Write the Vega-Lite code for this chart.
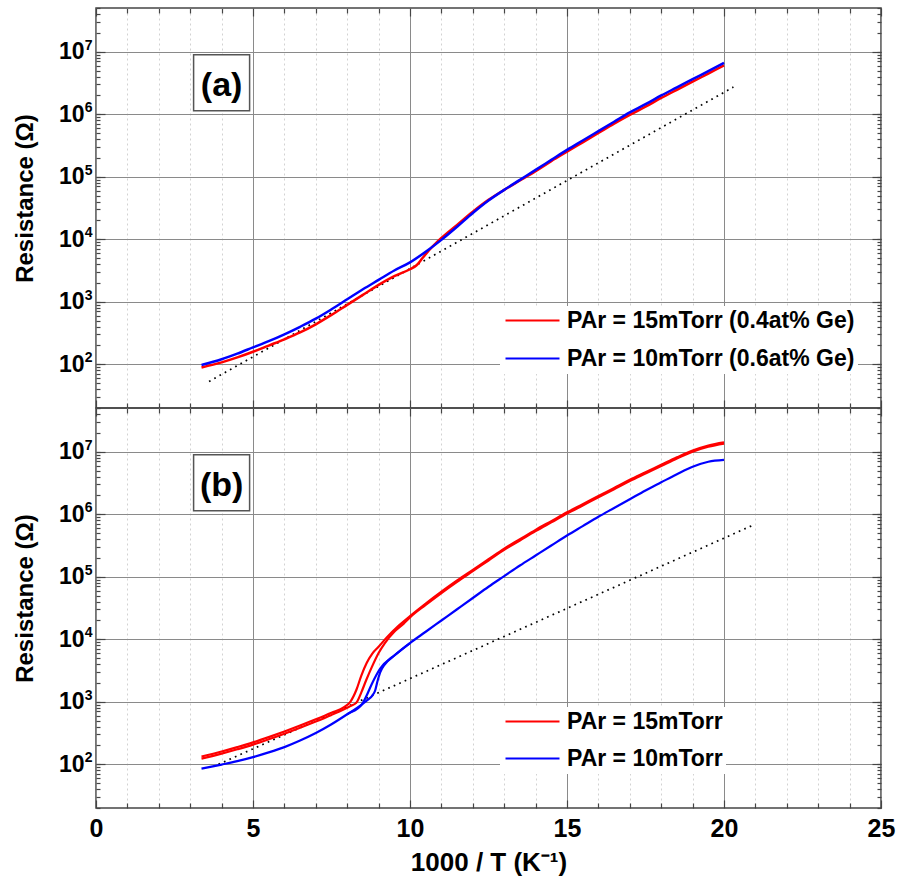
{
  "$schema": "https://vega.github.io/schema/vega-lite/v6.json",
  "background": "white",
  "padding": {"left": 12, "top": 6, "right": 7, "bottom": 10},
  "config": {
    "font": "Liberation Sans",
    "view": {"stroke": "#454545", "strokeWidth": 1.5},
    "axis": {"domain": false, "labelFlush": false, "labelOverlap": false, "labelBound": false, "tickColor": "#454545", "tickWidth": 1.2, "labelColor": "black", "titleColor": "black", "labelFont": "Liberation Sans", "titleFont": "Liberation Sans"}
  },
  "datasets": {
    "curves": [
      {"panel":"a","series":"a15","branch":"1","x":3.36,"R":89.1},
      {"panel":"a","series":"a15","branch":"1","x":4.0,"R":107.2},
      {"panel":"a","series":"a15","branch":"1","x":4.5,"R":128.8},
      {"panel":"a","series":"a15","branch":"1","x":5.0,"R":158.5},
      {"panel":"a","series":"a15","branch":"1","x":5.5,"R":199.5},
      {"panel":"a","series":"a15","branch":"1","x":6.0,"R":251.2},
      {"panel":"a","series":"a15","branch":"1","x":6.5,"R":323.6},
      {"panel":"a","series":"a15","branch":"1","x":7.0,"R":436.5},
      {"panel":"a","series":"a15","branch":"1","x":7.5,"R":616.6},
      {"panel":"a","series":"a15","branch":"1","x":8.0,"R":891.3},
      {"panel":"a","series":"a15","branch":"1","x":8.5,"R":1288},
      {"panel":"a","series":"a15","branch":"1","x":9.0,"R":1862},
      {"panel":"a","series":"a15","branch":"1","x":9.5,"R":2570},
      {"panel":"a","series":"a15","branch":"1","x":10.0,"R":3311},
      {"panel":"a","series":"a15","branch":"1","x":10.2,"R":3802},
      {"panel":"a","series":"a15","branch":"1","x":10.4,"R":5012},
      {"panel":"a","series":"a15","branch":"1","x":10.6,"R":6607},
      {"panel":"a","series":"a15","branch":"1","x":10.85,"R":8913},
      {"panel":"a","series":"a15","branch":"1","x":11.0,"R":10470},
      {"panel":"a","series":"a15","branch":"1","x":11.5,"R":16980},
      {"panel":"a","series":"a15","branch":"1","x":12.0,"R":27540},
      {"panel":"a","series":"a15","branch":"1","x":12.5,"R":42660},
      {"panel":"a","series":"a15","branch":"1","x":13.0,"R":61660},
      {"panel":"a","series":"a15","branch":"1","x":13.5,"R":87100},
      {"panel":"a","series":"a15","branch":"1","x":14.0,"R":123000},
      {"panel":"a","series":"a15","branch":"1","x":14.5,"R":177800},
      {"panel":"a","series":"a15","branch":"1","x":15.0,"R":251200},
      {"panel":"a","series":"a15","branch":"1","x":15.5,"R":354800},
      {"panel":"a","series":"a15","branch":"1","x":16.0,"R":501200},
      {"panel":"a","series":"a15","branch":"1","x":16.5,"R":707900},
      {"panel":"a","series":"a15","branch":"1","x":17.0,"R":977200},
      {"panel":"a","series":"a15","branch":"1","x":17.5,"R":1318000},
      {"panel":"a","series":"a15","branch":"1","x":18.0,"R":1820000},
      {"panel":"a","series":"a15","branch":"1","x":18.5,"R":2455000},
      {"panel":"a","series":"a15","branch":"1","x":19.0,"R":3311000},
      {"panel":"a","series":"a15","branch":"1","x":19.5,"R":4467000},
      {"panel":"a","series":"a15","branch":"1","x":20.0,"R":6026000},
      {"panel":"a","series":"a10","branch":"1","x":3.36,"R":97.7},
      {"panel":"a","series":"a10","branch":"1","x":4.0,"R":120.2},
      {"panel":"a","series":"a10","branch":"1","x":4.5,"R":147.9},
      {"panel":"a","series":"a10","branch":"1","x":5.0,"R":186.2},
      {"panel":"a","series":"a10","branch":"1","x":5.5,"R":234.4},
      {"panel":"a","series":"a10","branch":"1","x":6.0,"R":302.0},
      {"panel":"a","series":"a10","branch":"1","x":6.5,"R":398.1},
      {"panel":"a","series":"a10","branch":"1","x":7.0,"R":537.0},
      {"panel":"a","series":"a10","branch":"1","x":7.5,"R":758.6},
      {"panel":"a","series":"a10","branch":"1","x":8.0,"R":1096},
      {"panel":"a","series":"a10","branch":"1","x":8.5,"R":1585},
      {"panel":"a","series":"a10","branch":"1","x":9.0,"R":2239},
      {"panel":"a","series":"a10","branch":"1","x":9.5,"R":3162},
      {"panel":"a","series":"a10","branch":"1","x":10.0,"R":4266},
      {"panel":"a","series":"a10","branch":"1","x":10.5,"R":6310},
      {"panel":"a","series":"a10","branch":"1","x":11.0,"R":9772},
      {"panel":"a","series":"a10","branch":"1","x":11.5,"R":15850},
      {"panel":"a","series":"a10","branch":"1","x":12.0,"R":26300},
      {"panel":"a","series":"a10","branch":"1","x":12.5,"R":41690},
      {"panel":"a","series":"a10","branch":"1","x":13.0,"R":61660},
      {"panel":"a","series":"a10","branch":"1","x":13.5,"R":89130},
      {"panel":"a","series":"a10","branch":"1","x":14.0,"R":128800},
      {"panel":"a","series":"a10","branch":"1","x":14.5,"R":186200},
      {"panel":"a","series":"a10","branch":"1","x":15.0,"R":269200},
      {"panel":"a","series":"a10","branch":"1","x":15.5,"R":380200},
      {"panel":"a","series":"a10","branch":"1","x":16.0,"R":537000},
      {"panel":"a","series":"a10","branch":"1","x":16.5,"R":758600},
      {"panel":"a","series":"a10","branch":"1","x":17.0,"R":1072000},
      {"panel":"a","series":"a10","branch":"1","x":17.5,"R":1445000},
      {"panel":"a","series":"a10","branch":"1","x":18.0,"R":1995000},
      {"panel":"a","series":"a10","branch":"1","x":18.5,"R":2692000},
      {"panel":"a","series":"a10","branch":"1","x":19.0,"R":3631000},
      {"panel":"a","series":"a10","branch":"1","x":19.5,"R":4898000},
      {"panel":"a","series":"a10","branch":"1","x":20.0,"R":6607000},
      {"panel":"b","series":"b15","branch":"A","x":3.36,"R":133.4},
      {"panel":"b","series":"b15","branch":"A","x":4.0,"R":160.3},
      {"panel":"b","series":"b15","branch":"A","x":4.5,"R":188.4},
      {"panel":"b","series":"b15","branch":"A","x":5.0,"R":223.9},
      {"panel":"b","series":"b15","branch":"A","x":5.5,"R":272.3},
      {"panel":"b","series":"b15","branch":"A","x":6.0,"R":335.0},
      {"panel":"b","series":"b15","branch":"A","x":6.5,"R":416.9},
      {"panel":"b","series":"b15","branch":"A","x":7.0,"R":524.8},
      {"panel":"b","series":"b15","branch":"A","x":7.5,"R":668.3},
      {"panel":"b","series":"b15","branch":"A","x":7.9,"R":822.2},
      {"panel":"b","series":"b15","branch":"A","x":8.1,"R":1000},
      {"panel":"b","series":"b15","branch":"A","x":8.3,"R":1585},
      {"panel":"b","series":"b15","branch":"A","x":8.45,"R":2630},
      {"panel":"b","series":"b15","branch":"A","x":8.62,"R":4169},
      {"panel":"b","series":"b15","branch":"A","x":8.8,"R":5888},
      {"panel":"b","series":"b15","branch":"A","x":9.0,"R":7586},
      {"panel":"b","series":"b15","branch":"A","x":9.26,"R":10720},
      {"panel":"b","series":"b15","branch":"A","x":9.6,"R":15850},
      {"panel":"b","series":"b15","branch":"A","x":10.0,"R":23440},
      {"panel":"b","series":"b15","branch":"A","x":10.5,"R":37150},
      {"panel":"b","series":"b15","branch":"A","x":11.0,"R":57540},
      {"panel":"b","series":"b15","branch":"A","x":11.5,"R":87100},
      {"panel":"b","series":"b15","branch":"A","x":12.0,"R":128800},
      {"panel":"b","series":"b15","branch":"A","x":12.5,"R":190500},
      {"panel":"b","series":"b15","branch":"A","x":13.0,"R":281800},
      {"panel":"b","series":"b15","branch":"A","x":13.5,"R":398100},
      {"panel":"b","series":"b15","branch":"A","x":14.0,"R":562300},
      {"panel":"b","series":"b15","branch":"A","x":14.5,"R":776200},
      {"panel":"b","series":"b15","branch":"A","x":15.0,"R":1072000},
      {"panel":"b","series":"b15","branch":"A","x":15.5,"R":1445000},
      {"panel":"b","series":"b15","branch":"A","x":16.0,"R":1950000},
      {"panel":"b","series":"b15","branch":"A","x":16.5,"R":2630000},
      {"panel":"b","series":"b15","branch":"A","x":17.0,"R":3548000},
      {"panel":"b","series":"b15","branch":"A","x":17.5,"R":4677000},
      {"panel":"b","series":"b15","branch":"A","x":18.0,"R":6166000},
      {"panel":"b","series":"b15","branch":"A","x":18.5,"R":8128000},
      {"panel":"b","series":"b15","branch":"A","x":19.0,"R":10470000},
      {"panel":"b","series":"b15","branch":"A","x":19.5,"R":12590000},
      {"panel":"b","series":"b15","branch":"A","x":20.0,"R":14130000},
      {"panel":"b","series":"b15","branch":"B","x":3.36,"R":123.0},
      {"panel":"b","series":"b15","branch":"B","x":4.0,"R":147.9},
      {"panel":"b","series":"b15","branch":"B","x":4.5,"R":173.8},
      {"panel":"b","series":"b15","branch":"B","x":5.0,"R":206.5},
      {"panel":"b","series":"b15","branch":"B","x":5.5,"R":251.2},
      {"panel":"b","series":"b15","branch":"B","x":6.0,"R":309.0},
      {"panel":"b","series":"b15","branch":"B","x":6.5,"R":384.6},
      {"panel":"b","series":"b15","branch":"B","x":7.0,"R":484.2},
      {"panel":"b","series":"b15","branch":"B","x":7.5,"R":616.6},
      {"panel":"b","series":"b15","branch":"B","x":7.9,"R":758.6},
      {"panel":"b","series":"b15","branch":"B","x":8.1,"R":851.1},
      {"panel":"b","series":"b15","branch":"B","x":8.3,"R":977.2},
      {"panel":"b","series":"b15","branch":"B","x":8.45,"R":1413},
      {"panel":"b","series":"b15","branch":"B","x":8.6,"R":2188},
      {"panel":"b","series":"b15","branch":"B","x":8.78,"R":3548},
      {"panel":"b","series":"b15","branch":"B","x":9.0,"R":6026},
      {"panel":"b","series":"b15","branch":"B","x":9.2,"R":8710},
      {"panel":"b","series":"b15","branch":"B","x":9.5,"R":13180},
      {"panel":"b","series":"b15","branch":"B","x":9.8,"R":17780},
      {"panel":"b","series":"b15","branch":"B","x":10.0,"R":22390},
      {"panel":"b","series":"b15","branch":"B","x":10.5,"R":35480},
      {"panel":"b","series":"b15","branch":"B","x":11.0,"R":54950},
      {"panel":"b","series":"b15","branch":"B","x":11.5,"R":83180},
      {"panel":"b","series":"b15","branch":"B","x":12.0,"R":123000},
      {"panel":"b","series":"b15","branch":"B","x":12.5,"R":182000},
      {"panel":"b","series":"b15","branch":"B","x":13.0,"R":269200},
      {"panel":"b","series":"b15","branch":"B","x":13.5,"R":380200},
      {"panel":"b","series":"b15","branch":"B","x":14.0,"R":537000},
      {"panel":"b","series":"b15","branch":"B","x":14.5,"R":741300},
      {"panel":"b","series":"b15","branch":"B","x":15.0,"R":1023000},
      {"panel":"b","series":"b15","branch":"B","x":15.5,"R":1380000},
      {"panel":"b","series":"b15","branch":"B","x":16.0,"R":1862000},
      {"panel":"b","series":"b15","branch":"B","x":16.5,"R":2512000},
      {"panel":"b","series":"b15","branch":"B","x":17.0,"R":3388000},
      {"panel":"b","series":"b15","branch":"B","x":17.5,"R":4467000},
      {"panel":"b","series":"b15","branch":"B","x":18.0,"R":5888000},
      {"panel":"b","series":"b15","branch":"B","x":18.5,"R":7762000},
      {"panel":"b","series":"b15","branch":"B","x":19.0,"R":10000000},
      {"panel":"b","series":"b15","branch":"B","x":19.5,"R":12020000},
      {"panel":"b","series":"b15","branch":"B","x":20.0,"R":13490000},
      {"panel":"b","series":"b10","branch":"A","x":3.36,"R":85.1},
      {"panel":"b","series":"b10","branch":"A","x":4.0,"R":98.9},
      {"panel":"b","series":"b10","branch":"A","x":4.5,"R":112.2},
      {"panel":"b","series":"b10","branch":"A","x":5.0,"R":130.3},
      {"panel":"b","series":"b10","branch":"A","x":5.5,"R":154.9},
      {"panel":"b","series":"b10","branch":"A","x":6.0,"R":188.4},
      {"panel":"b","series":"b10","branch":"A","x":6.5,"R":239.9},
      {"panel":"b","series":"b10","branch":"A","x":7.0,"R":316.2},
      {"panel":"b","series":"b10","branch":"A","x":7.5,"R":436.5},
      {"panel":"b","series":"b10","branch":"A","x":8.0,"R":631.0},
      {"panel":"b","series":"b10","branch":"A","x":8.47,"R":912.0},
      {"panel":"b","series":"b10","branch":"A","x":8.6,"R":1202},
      {"panel":"b","series":"b10","branch":"A","x":8.78,"R":1905},
      {"panel":"b","series":"b10","branch":"A","x":8.92,"R":2630},
      {"panel":"b","series":"b10","branch":"A","x":9.05,"R":3388},
      {"panel":"b","series":"b10","branch":"A","x":9.5,"R":5495},
      {"panel":"b","series":"b10","branch":"A","x":10.0,"R":8710},
      {"panel":"b","series":"b10","branch":"A","x":10.5,"R":13180},
      {"panel":"b","series":"b10","branch":"A","x":11.0,"R":19950},
      {"panel":"b","series":"b10","branch":"A","x":11.5,"R":30200},
      {"panel":"b","series":"b10","branch":"A","x":12.0,"R":45710},
      {"panel":"b","series":"b10","branch":"A","x":12.5,"R":69180},
      {"panel":"b","series":"b10","branch":"A","x":13.0,"R":102300},
      {"panel":"b","series":"b10","branch":"A","x":13.5,"R":151400},
      {"panel":"b","series":"b10","branch":"A","x":14.0,"R":218800},
      {"panel":"b","series":"b10","branch":"A","x":14.5,"R":316200},
      {"panel":"b","series":"b10","branch":"A","x":15.0,"R":457100},
      {"panel":"b","series":"b10","branch":"A","x":15.5,"R":645700},
      {"panel":"b","series":"b10","branch":"A","x":16.0,"R":912000},
      {"panel":"b","series":"b10","branch":"A","x":16.5,"R":1259000},
      {"panel":"b","series":"b10","branch":"A","x":17.0,"R":1738000},
      {"panel":"b","series":"b10","branch":"A","x":17.5,"R":2399000},
      {"panel":"b","series":"b10","branch":"A","x":18.0,"R":3236000},
      {"panel":"b","series":"b10","branch":"A","x":18.5,"R":4365000},
      {"panel":"b","series":"b10","branch":"A","x":19.0,"R":5754000},
      {"panel":"b","series":"b10","branch":"A","x":19.5,"R":6918000},
      {"panel":"b","series":"b10","branch":"A","x":20.0,"R":7413000},
      {"panel":"b","series":"b10","branch":"B","x":8.0,"R":631.0},
      {"panel":"b","series":"b10","branch":"B","x":8.47,"R":912.0},
      {"panel":"b","series":"b10","branch":"B","x":8.62,"R":1047},
      {"panel":"b","series":"b10","branch":"B","x":8.8,"R":1259},
      {"panel":"b","series":"b10","branch":"B","x":8.89,"R":1514},
      {"panel":"b","series":"b10","branch":"B","x":8.96,"R":2089},
      {"panel":"b","series":"b10","branch":"B","x":9.05,"R":2951},
      {"panel":"b","series":"b10","branch":"B","x":9.2,"R":3981},
      {"panel":"b","series":"b10","branch":"B","x":9.5,"R":5495},
      {"panel":"b","series":"b10","branch":"B","x":10.0,"R":8710}
    ],
    "dots": [
      {"panel":"a","x":3.6,"R":53.1},
      {"panel":"a","x":20.3,"R":2716000},
      {"panel":"b","x":3.9,"R":100},
      {"panel":"b","x":20.9,"R":660700}
    ],
    "labels": [
      {"panel":"a","label":"(a)","x":4.0,"R":3200000},
      {"panel":"b","label":"(b)","x":4.0,"R":3200000}
    ]
  },
  "spacing": 0,
  "bounds": "flush",
  "resolve": {"scale": {"color": "independent"}, "legend": {"color": "independent"}},
  "vconcat": [
    {
      "width": 785,
      "height": 400,
      "resolve": {"axis": {"x": "independent", "y": "independent"}},
      "layer": [
        {
          "data": {"name": "dots"},
          "transform": [{"filter": "datum.panel == 'a'"}],
          "mark": {"type": "line", "color": "black", "strokeWidth": 1.7, "strokeDash": [1.7, 4.3]},
          "encoding": {
            "x": {"field": "x", "type": "quantitative", "scale": {"domain": [0, 25], "nice": false, "zero": false},
              "axis": {"orient": "bottom", "values": [0,5,10,15,20,25], "tickSize": -8, "grid": true, "gridColor": "#8a8a8a", "gridWidth": 1, "labels": false, "title": null}},
            "y": {"field": "R", "type": "quantitative", "scale": {"type": "log", "domain": [20, 50000000], "nice": false},
              "axis": {"orient": "left", "values": [100,1000,10000,100000,1000000,10000000], "tickSize": -9, "grid": true, "gridColor": "#8a8a8a", "gridWidth": 1, "labelExpr": "'10'", "labelFontSize": 23, "labelFontWeight": "bold", "labelPadding": 21, "labelBaseline": "middle", "title": "Resistance (Ω)", "titleFontSize": 24, "titleFontWeight": "bold", "titlePadding": 21, "titleY": 190}}
          }
        },
        {
          "data": {"name": "curves"},
          "transform": [{"filter": "datum.panel == 'a'"}],
          "mark": {"type": "line", "strokeWidth": 2.5, "interpolate": "monotone"},
          "encoding": {
            "x": {"field": "x", "type": "quantitative", "scale": {"domain": [0, 25], "nice": false, "zero": false},
              "axis": {"orient": "top", "values": [0,5,10,15,20,25], "tickSize": -8, "grid": false, "labels": false, "title": null}},
            "y": {"field": "R", "type": "quantitative", "scale": {"type": "log", "domain": [20, 50000000], "nice": false},
              "axis": {"orient": "right", "values": [100,1000,10000,100000,1000000,10000000], "tickSize": -9, "grid": false, "labels": false, "title": null}},
            "color": {"field": "series", "type": "nominal", "scale": {"domain": ["a15", "a10"], "range": ["#ff0000", "#0000ff"]},
              "legend": {"orient": "none", "legendX": 404, "legendY": 298, "title": null, "fillColor": "white", "padding": 3, "symbolType": "M-1,0H5", "symbolSize": 324, "symbolStrokeWidth": 2, "labelFontSize": 23, "labelFontWeight": "bold", "labelColor": "black", "labelOffset": 41, "rowPadding": 14, "labelLimit": 500,
                "labelExpr": "datum.label == 'a15' ? 'PAr = 15mTorr (0.4at% Ge)' : 'PAr = 10mTorr (0.6at% Ge)'"}},
            "detail": {"field": "branch"}
          }
        },
        {
          "data": {"name": "labels"},
          "transform": [{"filter": "datum.panel == 'a'"}],
          "mark": {"type": "point", "shape": "square", "size": 3136, "filled": true, "fill": "white", "stroke": "#555555", "strokeWidth": 1.5, "opacity": 1},
          "encoding": {
            "x": {"field": "x", "type": "quantitative", "scale": {"domain": [0, 25], "nice": false, "zero": false},
              "axis": {"orient": "bottom", "values": [1,2,3,4,6,7,8,9,11,12,13,14,16,17,18,19,21,22,23,24], "tickSize": -5, "grid": true, "gridColor": "#d2d2d2", "gridDash": [2, 3], "gridWidth": 1, "labels": false, "title": null}},
            "y": {"field": "R", "type": "quantitative", "scale": {"type": "log", "domain": [20, 50000000], "nice": false},
              "axis": {"orient": "left", "values": [20,30,40,50,60,70,80,90,100,200,300,400,500,600,700,800,900,1000,2000,3000,4000,5000,6000,7000,8000,9000,10000,20000,30000,40000,50000,60000,70000,80000,90000,100000,200000,300000,400000,500000,600000,700000,800000,900000,1000000,2000000,3000000,4000000,5000000,6000000,7000000,8000000,9000000,10000000,20000000,30000000,40000000,50000000], "tickSize": -4, "grid": false,
                "labelExpr": "abs(log(datum.value)/LN10 - round(log(datum.value)/LN10)) < 0.001 ? '' + round(log(datum.value)/LN10) : ''",
                "labelFontSize": {"condition": {"test": "abs(log(datum.value)/LN10 - round(log(datum.value)/LN10)) < 0.001", "value": 14}, "value": 0},
                "labelOffset": {"condition": {"test": "abs(log(datum.value)/LN10 - round(log(datum.value)/LN10)) < 0.001", "value": -6.5}, "value": 0},
                "labelFontWeight": "bold", "labelPadding": 8, "labelBaseline": "middle", "title": null}}
          }
        },
        {
          "data": {"name": "labels"},
          "transform": [{"filter": "datum.panel == 'a'"}],
          "mark": {"type": "text", "fontSize": 34, "fontWeight": "bold", "color": "black", "align": "center", "baseline": "middle", "dy": 3},
          "encoding": {
            "x": {"field": "x", "type": "quantitative", "scale": {"domain": [0, 25], "nice": false, "zero": false},
              "axis": {"orient": "top", "values": [1,2,3,4,6,7,8,9,11,12,13,14,16,17,18,19,21,22,23,24], "tickSize": -5, "grid": false, "labels": false, "title": null}},
            "y": {"field": "R", "type": "quantitative", "scale": {"type": "log", "domain": [20, 50000000], "nice": false},
              "axis": {"orient": "right", "values": [20,30,40,50,60,70,80,90,100,200,300,400,500,600,700,800,900,1000,2000,3000,4000,5000,6000,7000,8000,9000,10000,20000,30000,40000,50000,60000,70000,80000,90000,100000,200000,300000,400000,500000,600000,700000,800000,900000,1000000,2000000,3000000,4000000,5000000,6000000,7000000,8000000,9000000,10000000,20000000,30000000,40000000,50000000], "tickSize": -4, "grid": false, "labels": false, "title": null}},
            "text": {"field": "label"}
          }
        }
      ]
    },
    {
      "width": 785,
      "height": 400,
      "resolve": {"axis": {"x": "independent", "y": "independent"}},
      "layer": [
        {
          "data": {"name": "dots"},
          "transform": [{"filter": "datum.panel == 'b'"}],
          "mark": {"type": "line", "color": "black", "strokeWidth": 1.7, "strokeDash": [1.7, 4.3]},
          "encoding": {
            "x": {"field": "x", "type": "quantitative", "scale": {"domain": [0, 25], "nice": false, "zero": false},
              "axis": {"orient": "bottom", "values": [0,5,10,15,20,25], "tickSize": -8, "grid": true, "gridColor": "#8a8a8a", "gridWidth": 1, "labelFontSize": 25, "labelFontWeight": "bold", "labelPadding": 16.5, "title": "1000 / T (K⁻¹)", "titleFontSize": 26, "titleFontWeight": "bold", "titlePadding": 8}},
            "y": {"field": "R", "type": "quantitative", "scale": {"type": "log", "domain": [20, 50000000], "nice": false},
              "axis": {"orient": "left", "values": [100,1000,10000,100000,1000000,10000000], "tickSize": -9, "grid": true, "gridColor": "#8a8a8a", "gridWidth": 1, "labelExpr": "'10'", "labelFontSize": 23, "labelFontWeight": "bold", "labelPadding": 21, "labelBaseline": "middle", "title": "Resistance (Ω)", "titleFontSize": 24, "titleFontWeight": "bold", "titlePadding": 21, "titleY": 190}}
          }
        },
        {
          "data": {"name": "curves"},
          "transform": [{"filter": "datum.panel == 'b'"}],
          "mark": {"type": "line", "strokeWidth": 2.2, "interpolate": "monotone"},
          "encoding": {
            "x": {"field": "x", "type": "quantitative", "scale": {"domain": [0, 25], "nice": false, "zero": false},
              "axis": {"orient": "top", "values": [0,5,10,15,20,25], "tickSize": -8, "grid": false, "labels": false, "title": null}},
            "y": {"field": "R", "type": "quantitative", "scale": {"type": "log", "domain": [20, 50000000], "nice": false},
              "axis": {"orient": "right", "values": [100,1000,10000,100000,1000000,10000000], "tickSize": -9, "grid": false, "labels": false, "title": null}},
            "color": {"field": "series", "type": "nominal", "scale": {"domain": ["b15", "b10"], "range": ["#ff0000", "#0000ff"]},
              "legend": {"orient": "none", "legendX": 404, "legendY": 299, "title": null, "fillColor": "white", "padding": 3, "symbolType": "M-1,0H5", "symbolSize": 324, "symbolStrokeWidth": 2, "labelFontSize": 23, "labelFontWeight": "bold", "labelColor": "black", "labelOffset": 41, "rowPadding": 13, "labelLimit": 500,
                "labelExpr": "datum.label == 'b15' ? 'PAr = 15mTorr' : 'PAr = 10mTorr'"}},
            "detail": {"field": "branch"}
          }
        },
        {
          "data": {"name": "labels"},
          "transform": [{"filter": "datum.panel == 'b'"}],
          "mark": {"type": "point", "shape": "square", "size": 3136, "filled": true, "fill": "white", "stroke": "#555555", "strokeWidth": 1.5, "opacity": 1},
          "encoding": {
            "x": {"field": "x", "type": "quantitative", "scale": {"domain": [0, 25], "nice": false, "zero": false},
              "axis": {"orient": "bottom", "values": [1,2,3,4,6,7,8,9,11,12,13,14,16,17,18,19,21,22,23,24], "tickSize": -5, "grid": true, "gridColor": "#d2d2d2", "gridDash": [2, 3], "gridWidth": 1, "labels": false, "title": null}},
            "y": {"field": "R", "type": "quantitative", "scale": {"type": "log", "domain": [20, 50000000], "nice": false},
              "axis": {"orient": "left", "values": [20,30,40,50,60,70,80,90,100,200,300,400,500,600,700,800,900,1000,2000,3000,4000,5000,6000,7000,8000,9000,10000,20000,30000,40000,50000,60000,70000,80000,90000,100000,200000,300000,400000,500000,600000,700000,800000,900000,1000000,2000000,3000000,4000000,5000000,6000000,7000000,8000000,9000000,10000000,20000000,30000000,40000000,50000000], "tickSize": -4, "grid": false,
                "labelExpr": "abs(log(datum.value)/LN10 - round(log(datum.value)/LN10)) < 0.001 ? '' + round(log(datum.value)/LN10) : ''",
                "labelFontSize": {"condition": {"test": "abs(log(datum.value)/LN10 - round(log(datum.value)/LN10)) < 0.001", "value": 14}, "value": 0},
                "labelOffset": {"condition": {"test": "abs(log(datum.value)/LN10 - round(log(datum.value)/LN10)) < 0.001", "value": -6.5}, "value": 0},
                "labelFontWeight": "bold", "labelPadding": 8, "labelBaseline": "middle", "title": null}}
          }
        },
        {
          "data": {"name": "labels"},
          "transform": [{"filter": "datum.panel == 'b'"}],
          "mark": {"type": "text", "fontSize": 34, "fontWeight": "bold", "color": "black", "align": "center", "baseline": "middle", "dy": 3},
          "encoding": {
            "x": {"field": "x", "type": "quantitative", "scale": {"domain": [0, 25], "nice": false, "zero": false},
              "axis": {"orient": "top", "values": [1,2,3,4,6,7,8,9,11,12,13,14,16,17,18,19,21,22,23,24], "tickSize": -5, "grid": false, "labels": false, "title": null}},
            "y": {"field": "R", "type": "quantitative", "scale": {"type": "log", "domain": [20, 50000000], "nice": false},
              "axis": {"orient": "right", "values": [20,30,40,50,60,70,80,90,100,200,300,400,500,600,700,800,900,1000,2000,3000,4000,5000,6000,7000,8000,9000,10000,20000,30000,40000,50000,60000,70000,80000,90000,100000,200000,300000,400000,500000,600000,700000,800000,900000,1000000,2000000,3000000,4000000,5000000,6000000,7000000,8000000,9000000,10000000,20000000,30000000,40000000,50000000], "tickSize": -4, "grid": false, "labels": false, "title": null}},
            "text": {"field": "label"}
          }
        }
      ]
    }
  ]
}
